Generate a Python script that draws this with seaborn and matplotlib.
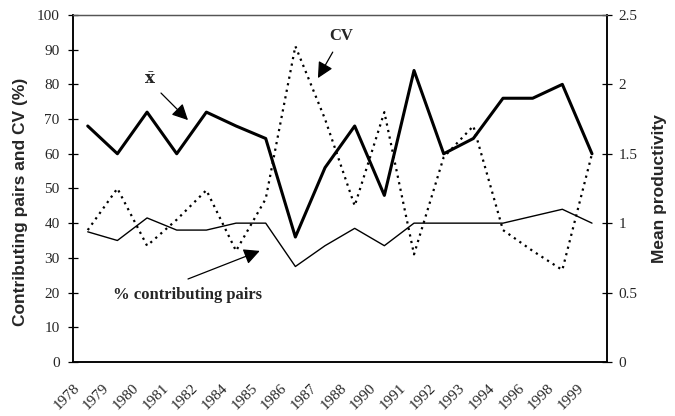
"""Contributing pairs, CV and mean productivity by year (1978-1999)."""

import pandas as pd
import matplotlib
matplotlib.use("Agg")
import matplotlib.pyplot as plt
import seaborn as sns

# --- data ---
years = ["1978", "1979", "1980", "1981", "1982", "1984", "1985", "1986", "1987",
         "1988", "1990", "1991", "1992", "1993", "1994", "1996", "1998", "1999"]
pct_pairs = [37.5, 35, 41.5, 38, 38, 40, 40, 27.5, 33.5, 38.5, 33.5, 40, 40, 40, 40, 42, 44, 40]
cv = [38, 50, 33.5, 41, 49.5, 32, 47, 91, 70, 45, 72, 31, 59, 68, 38, 32, 26.5, 60]
mean_prod = [1.7, 1.5, 1.8, 1.5, 1.8, 1.7, 1.61, 0.9, 1.4, 1.7, 1.2, 2.1, 1.5, 1.61, 1.9, 1.9, 2.0, 1.5]
left_ticks = [0, 10, 20, 30, 40, 50, 60, 70, 80, 90, 100]
right_ticks = [0, 0.5, 1, 1.5, 2, 2.5]

df = pd.DataFrame({"pos": range(len(years)), "year": years,
                   "pairs": pct_pairs, "cv": cv, "prod": mean_prod})

sns.set_style("white")
plt.rcParams["font.family"] = ["Liberation Serif", "DejaVu Serif"]
plt.rcParams["mathtext.fontset"] = "dejavuserif"

fig = plt.figure(figsize=(6.75, 4.16), dpi=100)
ax = fig.add_axes([0.108, 0.130, 0.791, 0.834])
ax2 = ax.twinx()

sns.lineplot(data=df, x="pos", y="pairs", ax=ax, color="black", lw=1.0)
sns.lineplot(data=df, x="pos", y="cv", ax=ax, color="black", lw=1.6, linestyle=(0, (1, 2)))
sns.lineplot(data=df, x="pos", y="prod", ax=ax2, color="black", lw=2.2)

n = len(years)
ax.set_xlim(-0.5, n - 0.5)
ax.set_ylim(0, 100)
ax2.set_ylim(0, 2.5)

# ticks at category boundaries; year labels hang from the left boundary of each category
ax.set_xticks([i - 0.5 for i in range(n + 1)])
ax.set_xticklabels(years + [""], rotation=45, ha="right", rotation_mode="anchor", fontsize=11)
ax.tick_params(axis="x", direction="inout", length=7, width=0.9, color="black", pad=10.5)

ax.set_yticks(left_ticks)
ax.set_yticklabels([str(t) for t in left_ticks], fontsize=11)
ax.tick_params(axis="y", direction="inout", length=7, width=0.9, color="black", pad=6, left=True)
ax2.set_yticks(right_ticks)
ax2.set_yticklabels([f"{t:g}" for t in right_ticks], fontsize=11)
ax2.tick_params(axis="y", direction="inout", length=7, width=0.9, color="black", pad=5, right=True)

for a in (ax, ax2):
    for side in ("left", "bottom", "right"):
        a.spines[side].set_color("black")
        a.spines[side].set_linewidth(1.1)
    a.spines["top"].set_color("#555555")
    a.spines["top"].set_linewidth(0.9)

ax.set_xlabel("")
ax.set_ylabel("Contributing pairs and CV (%)", family=["Liberation Sans", "DejaVu Sans"],
              fontweight="bold", fontsize=12.5)
ax.yaxis.set_label_coords(-0.085, 0.46)
ax2.set_ylabel("Mean productivity", family=["Liberation Sans", "DejaVu Sans"],
               fontweight="bold", fontsize=12.5, labelpad=10)

arrow = dict(arrowstyle="-|>", mutation_scale=24, color="black", lw=0.9, shrinkA=0, shrinkB=0)
ax.text(8.53, 94.0, "CV", ha="center", va="center", fontsize=12, fontweight="bold")
ax.annotate("", xy=(7.76, 81.8), xytext=(8.26, 89.3), arrowprops=arrow)
ax.text(2.1, 81.3, r"$\bar{\mathbf{x}}$", ha="center", va="center", fontsize=12)
ax.annotate("", xy=(3.38, 69.7), xytext=(2.47, 77.5), arrowprops=arrow)
ax.text(3.38, 19.3, "% contributing pairs", ha="center", va="center", fontsize=12,
        fontweight="bold")
ax.annotate("", xy=(5.8, 32), xytext=(3.38, 23.9), arrowprops=arrow)

fig.savefig("out.png", dpi=100)
